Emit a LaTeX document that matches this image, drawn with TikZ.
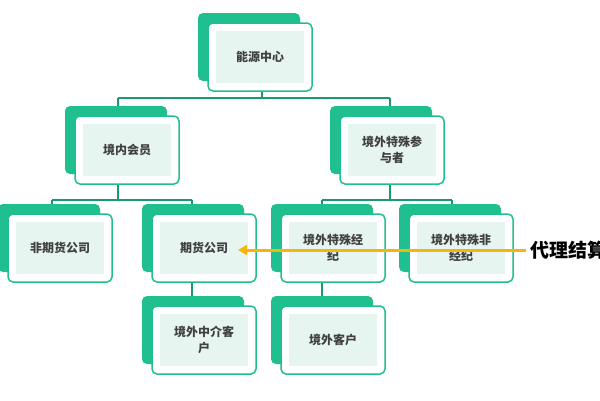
\documentclass[tikz,border=0pt]{standalone}
\usepackage{fontspec}
\newfontfamily\cjk{Noto Sans CJK SC}
\usetikzlibrary{arrows.meta}
\definecolor{gr}{HTML}{1FBF8F}
\definecolor{mint}{HTML}{E6F5F0}
\definecolor{org}{HTML}{F5B50A}
\tikzset{
 box/.style={draw=gr,line width=1.5pt,fill=white,rounded corners=5pt,minimum width=104pt,minimum height=68pt},
 conn/.style={draw=gr!80!black,line width=1.2pt}
}
\newcommand{\mybox}[4]{% name, x, y, text
 \fill[gr,rounded corners=5pt] (#2-62,#3-44) rectangle (#2+40,#3+24);
 \node[box] (#1) at (#2,#3) {};
 \fill[mint] (#2-44,#3-26) rectangle (#2+44,#3+26);
 \node[align=center,font=\cjk\bfseries\fontsize{12}{16}\selectfont,text width=86pt,text=black!75] at (#2,#3) {#4};
}
\begin{document}
\begin{tikzpicture}[x=1pt,y=-1pt]
\useasboundingbox (0,0) rectangle (600,400);
\clip (0,0) rectangle (600,400);
\fill[white] (0,0) rectangle (600,400);
\draw[conn] (262,92) -- (262,98) (118,98) -- (390,98) (118,98) -- (118,115) (390,98) -- (390,115);
\draw[conn] (118,185) -- (118,200) (52,200) -- (192,200) (52,200) -- (52,215) (192,200) -- (192,215);
\draw[conn] (390,185) -- (390,200) (322,200) -- (452,200) (322,200) -- (322,215) (452,200) -- (452,215);
\draw[conn] (192,282) -- (192,305) (322,282) -- (322,305);
\mybox{a}{260}{57}{能源中心}
\mybox{b}{127}{150}{境内会员}
\mybox{c}{392}{150}{境外特殊参\\与者}
\mybox{d}{60}{248}{非期货公司}
\mybox{e}{204}{248}{期货公司}
\mybox{f}{333}{248}{境外特殊经\\纪}
\mybox{g}{461}{248}{境外特殊非\\经纪}
\mybox{h}{204}{340}{境外中介客\\户}
\mybox{i}{333}{340}{境外客户}
\node[font=\cjk\bfseries\fontsize{19}{22}\selectfont,anchor=west,inner sep=0] (t) at (530,250) {代理结算};
\coordinate (s) at (526,250);
\draw[org,line width=3pt,-{Triangle[length=9pt,width=10pt]}] (s) -- (238,250);
\end{tikzpicture}
\end{document}
